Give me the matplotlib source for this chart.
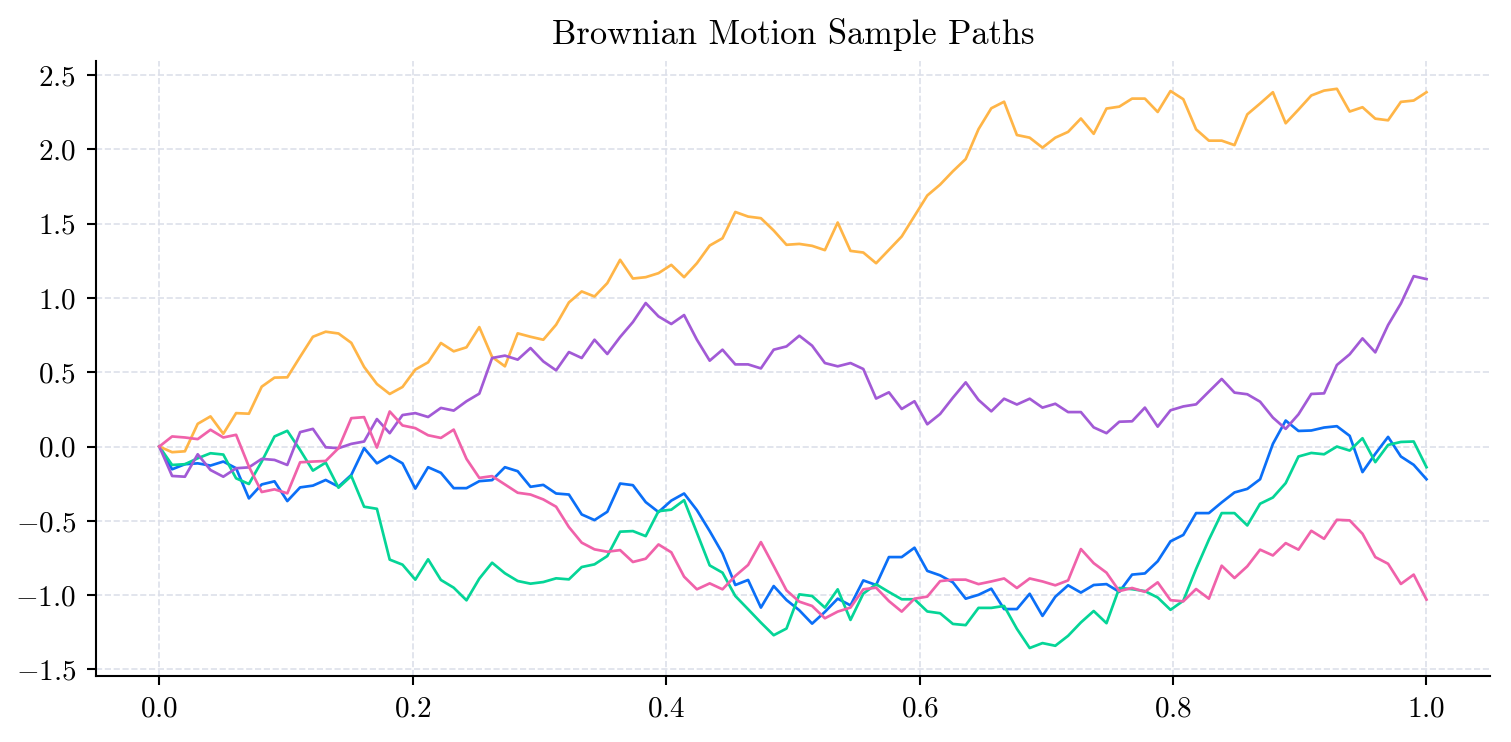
import numpy as np
import matplotlib
matplotlib.use("Agg")
import matplotlib.pyplot as plt

# Computer Modern look
plt.rcParams['font.family'] = 'serif'
plt.rcParams['font.serif'] = ['cmr10']
plt.rcParams['mathtext.fontset'] = 'cm'
plt.rcParams['axes.formatter.use_mathtext'] = True

# 100 time points on [0, 1]
t = np.linspace(0, 1, 100)

blue = [0, -0.153, -0.119, -0.113, -0.128, -0.101, -0.146, -0.349, -0.255, -0.234,
        -0.367, -0.275, -0.263, -0.225, -0.27, -0.191, -0.011, -0.113, -0.063, -0.113,
        -0.283, -0.139, -0.177, -0.28, -0.28, -0.233, -0.226, -0.139, -0.166, -0.271,
        -0.258, -0.316, -0.323, -0.457, -0.495, -0.439, -0.249, -0.26, -0.374, -0.441,
        -0.364, -0.316, -0.428, -0.569, -0.719, -0.932, -0.898, -1.084, -0.939, -1.033,
        -1.102, -1.192, -1.113, -1.024, -1.069, -0.901, -0.932, -0.744, -0.744, -0.681,
        -0.837, -0.867, -0.914, -1.024, -0.998, -0.957, -1.094, -1.094, -0.991, -1.14,
        -1.011, -0.934, -0.983, -0.932, -0.926, -0.978, -0.862, -0.854, -0.772, -0.638,
        -0.595, -0.448, -0.448, -0.376, -0.309, -0.285, -0.22, 0.018, 0.175, 0.105,
        0.108, 0.128, 0.137, 0.072, -0.172, -0.049, 0.065, -0.067, -0.123, -0.22]

green = [0, -0.124, -0.119, -0.079, -0.045, -0.054, -0.214, -0.252, -0.101, 0.068,
         0.106, -0.023, -0.162, -0.108, -0.277, -0.198, -0.405, -0.419, -0.761, -0.795,
         -0.896, -0.759, -0.898, -0.95, -1.035, -0.889, -0.782, -0.853, -0.905, -0.923,
         -0.912, -0.887, -0.894, -0.811, -0.793, -0.737, -0.573, -0.569, -0.603, -0.435,
         -0.425, -0.361, -0.58, -0.8, -0.849, -1.006, -1.095, -1.185, -1.27, -1.225,
         -0.995, -1.006, -1.084, -0.961, -1.167, -0.99, -0.927, -0.979, -1.028, -1.028,
         -1.11, -1.122, -1.194, -1.202, -1.086, -1.086, -1.073, -1.227, -1.356, -1.323,
         -1.341, -1.274, -1.184, -1.107, -1.189, -0.952, -0.96, -0.973, -1.016, -1.099,
         -1.038, -0.824, -0.627, -0.448, -0.448, -0.531, -0.385, -0.343, -0.246, -0.067,
         -0.043, -0.052, 0.0, -0.027, 0.056, -0.105, 0.011, 0.031, 0.034, -0.139]

orange = [0, -0.038, -0.032, 0.153, 0.203, 0.086, 0.225, 0.221, 0.403, 0.464,
          0.466, 0.604, 0.739, 0.773, 0.761, 0.698, 0.536, 0.421, 0.354, 0.401,
          0.518, 0.567, 0.697, 0.641, 0.668, 0.804, 0.603, 0.54, 0.762, 0.739,
          0.719, 0.82, 0.97, 1.044, 1.01, 1.1, 1.257, 1.131, 1.14, 1.167,
          1.223, 1.14, 1.234, 1.353, 1.402, 1.579, 1.548, 1.537, 1.454, 1.358,
          1.364, 1.351, 1.322, 1.508, 1.317, 1.306, 1.234, 1.324, 1.414, 1.552,
          1.69, 1.763, 1.853, 1.935, 2.136, 2.277, 2.321, 2.097, 2.079, 2.012,
          2.079, 2.118, 2.208, 2.105, 2.275, 2.288, 2.342, 2.342, 2.252, 2.393,
          2.338, 2.135, 2.059, 2.059, 2.029, 2.236, 2.309, 2.385, 2.176, 2.268,
          2.363, 2.396, 2.408, 2.255, 2.284, 2.207, 2.196, 2.32, 2.329, 2.385]

purple = [0, -0.198, -0.203, -0.052, -0.158, -0.203, -0.146, -0.14, -0.083, -0.09,
          -0.124, 0.097, 0.119, -0.005, -0.011, 0.018, 0.034, 0.185, 0.09, 0.212,
          0.225, 0.199, 0.26, 0.242, 0.305, 0.356, 0.596, 0.612, 0.585, 0.663,
          0.573, 0.513, 0.636, 0.596, 0.719, 0.623, 0.737, 0.838, 0.966, 0.876,
          0.825, 0.885, 0.719, 0.578, 0.652, 0.553, 0.553, 0.526, 0.652, 0.674,
          0.746, 0.679, 0.562, 0.54, 0.562, 0.522, 0.323, 0.365, 0.253, 0.305,
          0.15, 0.219, 0.329, 0.432, 0.314, 0.237, 0.322, 0.283, 0.322, 0.262,
          0.288, 0.232, 0.232, 0.129, 0.09, 0.167, 0.17, 0.262, 0.134, 0.244,
          0.27, 0.284, 0.37, 0.455, 0.363, 0.352, 0.302, 0.195, 0.119, 0.217,
          0.354, 0.358, 0.549, 0.621, 0.728, 0.634, 0.818, 0.963, 1.147, 1.127]

pink = [0, 0.068, 0.061, 0.05, 0.113, 0.061, 0.079, -0.135, -0.306, -0.288,
        -0.315, -0.106, -0.101, -0.097, -0.011, 0.191, 0.198, -0.007, 0.236, 0.142,
        0.124, 0.076, 0.058, 0.114, -0.083, -0.211, -0.199, -0.255, -0.311, -0.323,
        -0.356, -0.405, -0.542, -0.647, -0.692, -0.708, -0.697, -0.777, -0.755, -0.659,
        -0.712, -0.876, -0.961, -0.921, -0.961, -0.871, -0.797, -0.643, -0.804, -0.968,
        -1.044, -1.073, -1.156, -1.111, -1.084, -0.961, -0.95, -1.04, -1.111, -1.024,
        -1.01, -0.906, -0.896, -0.896, -0.926, -0.908, -0.888, -0.952, -0.888, -0.908,
        -0.934, -0.901, -0.69, -0.785, -0.849, -0.973, -0.952, -0.978, -0.914, -1.034,
        -1.042, -0.959, -1.024, -0.802, -0.885, -0.806, -0.694, -0.733, -0.65, -0.694,
        -0.567, -0.621, -0.493, -0.497, -0.587, -0.744, -0.789, -0.925, -0.862, -1.03]

paths = [blue, green, orange, purple, pink]
colors = ['#0B6FF7', '#05D597', '#FFB547', '#A25AD6', '#F062AA']

fig = plt.figure(figsize=(1511 / 150, 742 / 150), dpi=150)
ax = fig.add_axes([0.0635, 0.089, 0.9225, 0.829])

for y, c in zip(paths, colors):
    ax.plot(t, y, color=c, linewidth=1.3)

ax.set_title('Brownian Motion Sample Paths', fontsize=16.5, pad=8)
ax.grid(True, linestyle='--', color='#dde0ea', linewidth=0.8)
ax.set_axisbelow(True)
ax.spines['top'].set_visible(False)
ax.spines['right'].set_visible(False)
for s in ['left', 'bottom']:
    ax.spines[s].set_linewidth(1.0)
ax.tick_params(labelsize=14, length=4.5, width=1.0, pad=5)

fig.savefig('out.png', dpi=150)
